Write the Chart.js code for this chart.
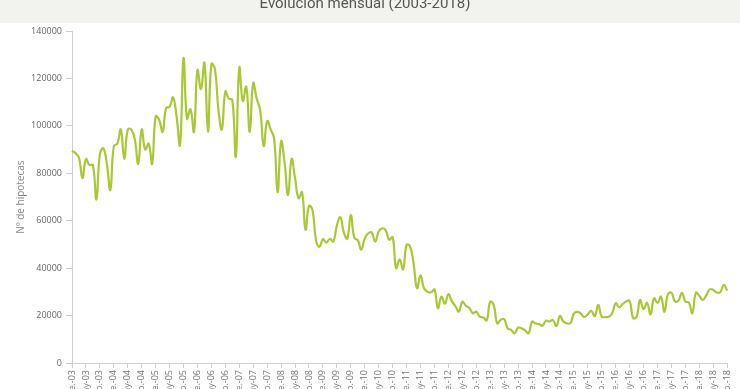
<!DOCTYPE html>
<html>
<head>
<meta charset="utf-8">
<script src="https://cdn.jsdelivr.net/npm/chart.js@4/dist/chart.umd.min.js"></script>
<style>
  html, body { margin: 0; padding: 0; background: #fff; overflow: hidden; width: 740px; height: 389px; }
  #wrap { position: absolute; left: 0; top: -8px; width: 740px; height: 400px; }
</style>
</head>
<body>
<div id="wrap"><canvas id="hipotecasChart"></canvas></div>
<script>
// Meses y años del eje X
const meses = ['ene.', 'feb.', 'mar.', 'abr.', 'may', 'jun.', 'jul.', 'ago.', 'sep.', 'oct.', 'nov.', 'dic.'];
const anios = ['03', '04', '05', '06', '07', '08', '09', '10', '11', '12', '13', '14', '15', '16', '17', '18'];

// Nº de hipotecas mensual (ene-2003 a sep-2018)
const hipotecas = [
    89500, 88500, 86500, 78000, 86000, 83500, 83500, 69000, 88000, 90500, 84000, 73000,
    91500, 92500, 98500, 86000, 98500, 98500, 94500, 84000, 98500, 90000, 92500, 84000,
    104000, 102500, 97500, 107500, 108000, 112000, 104000, 92000, 128500, 103000, 107000, 97500,
    123500, 115500, 126500, 97500, 126000, 124000, 107000, 98500, 114500, 111500, 111000, 87000,
    124500, 110500, 116500, 97500, 118000, 111500, 106500, 91500, 102000, 98500, 94500, 72000,
    93500, 84500, 70800, 86000, 78000, 69500, 72000, 56200, 66200, 64500, 52000, 49000,
    52200, 50800, 52300, 51200, 58000, 61500, 55000, 52500, 62500, 52800, 51800, 47800,
    52500, 54700, 55000, 51200, 55500, 56800, 56000, 52000, 53000, 40000, 43700, 39500,
    49800, 49200, 42000, 31500, 37000, 31500, 30000, 29800, 31000, 23100, 28000, 25000,
    29000, 26000, 24000, 21700, 25800, 24200, 23200, 21000, 21600, 19500, 19200, 18000,
    25800, 24500, 16700, 18200, 18500, 14600, 14000, 12500, 14900, 14600, 13800, 12500,
    17400, 16700, 16400, 15700, 17800, 17500, 18100, 15600, 19800, 17500, 16700, 16800,
    20800, 21600, 20800, 19400, 20500, 22000, 19800, 24500, 19500, 19400, 19500, 21000,
    25200, 23500, 24800, 25900, 26200, 19000, 19500, 26600, 22800, 25400, 20500, 27300,
    25300, 28000, 21600, 29000, 29600, 26000, 26300, 29600, 25900, 25500, 21000, 29600,
    28300, 26600, 28500, 31100, 30800, 29700, 29800, 32900, 30500
];

// Etiquetas "mes-año" para cada dato
const etiquetas = [];
anios.forEach(a => meses.forEach(m => etiquetas.push(m + '-' + a)));
etiquetas.length = hipotecas.length;

// Franja gris detrás del título
const franjaTitulo = {
    id: 'franjaTitulo',
    beforeDraw(chart) {
        const c = chart.ctx;
        c.save();
        c.fillStyle = '#f2f2ef';
        c.fillRect(0, 0, chart.width, 31);
        c.restore();
    }
};

const ctx = document.getElementById('hipotecasChart').getContext('2d');
const hipotecasChart = new Chart(ctx, {
    type: 'line',
    data: {
        labels: etiquetas,
        datasets: [{
            label: 'Nº de hipotecas',
            data: hipotecas,
            borderColor: '#a9c934',
            borderWidth: 2.2,
            pointRadius: 0,
            tension: 0.45,
            fill: false
        }]
    },
    options: {
        responsive: true,
        maintainAspectRatio: false,
        animation: false,
        layout: { padding: { top: 0, right: 10, bottom: 0, left: 0 } },
        plugins: {
            legend: { display: false },
            tooltip: { enabled: false },
            title: {
                display: true,
                text: 'Evolución mensual (2003-2018)',
                color: '#555',
                font: { family: 'Roboto', size: 15, weight: 'normal' },
                padding: { top: 3, bottom: 18 }
            }
        },
        scales: {
            x: {
                afterFit(scale) { scale.height = 29; },
                grid: { drawOnChartArea: false, tickLength: 5, color: '#cfcfcf' },
                border: { color: '#cfcfcf' },
                ticks: {
                    autoSkip: false,
                    maxRotation: 90,
                    minRotation: 90,
                    padding: 2,
                    color: '#777',
                    font: { family: 'Open Sans', size: 9 },
                    callback: function (val, i) {
                        return i % 4 === 0 ? this.getLabelForValue(val) : null;
                    }
                }
            },
            y: {
                min: 0,
                max: 140000,
                afterFit(scale) { scale.width = 72; },
                grid: { drawOnChartArea: false, tickLength: 6, color: '#cfcfcf' },
                border: { color: '#cfcfcf' },
                ticks: {
                    stepSize: 20000,
                    padding: 4,
                    color: '#666',
                    font: { family: 'Open Sans', size: 9 },
                    callback: v => String(v)
                },
                title: {
                    display: true,
                    text: 'Nº de hipotecas',
                    color: '#888',
                    font: { family: 'Open Sans', size: 10 },
                    padding: { top: 15, bottom: 0 }
                }
            }
        }
    },
    plugins: [franjaTitulo]
});
</script>
</body>
</html>
